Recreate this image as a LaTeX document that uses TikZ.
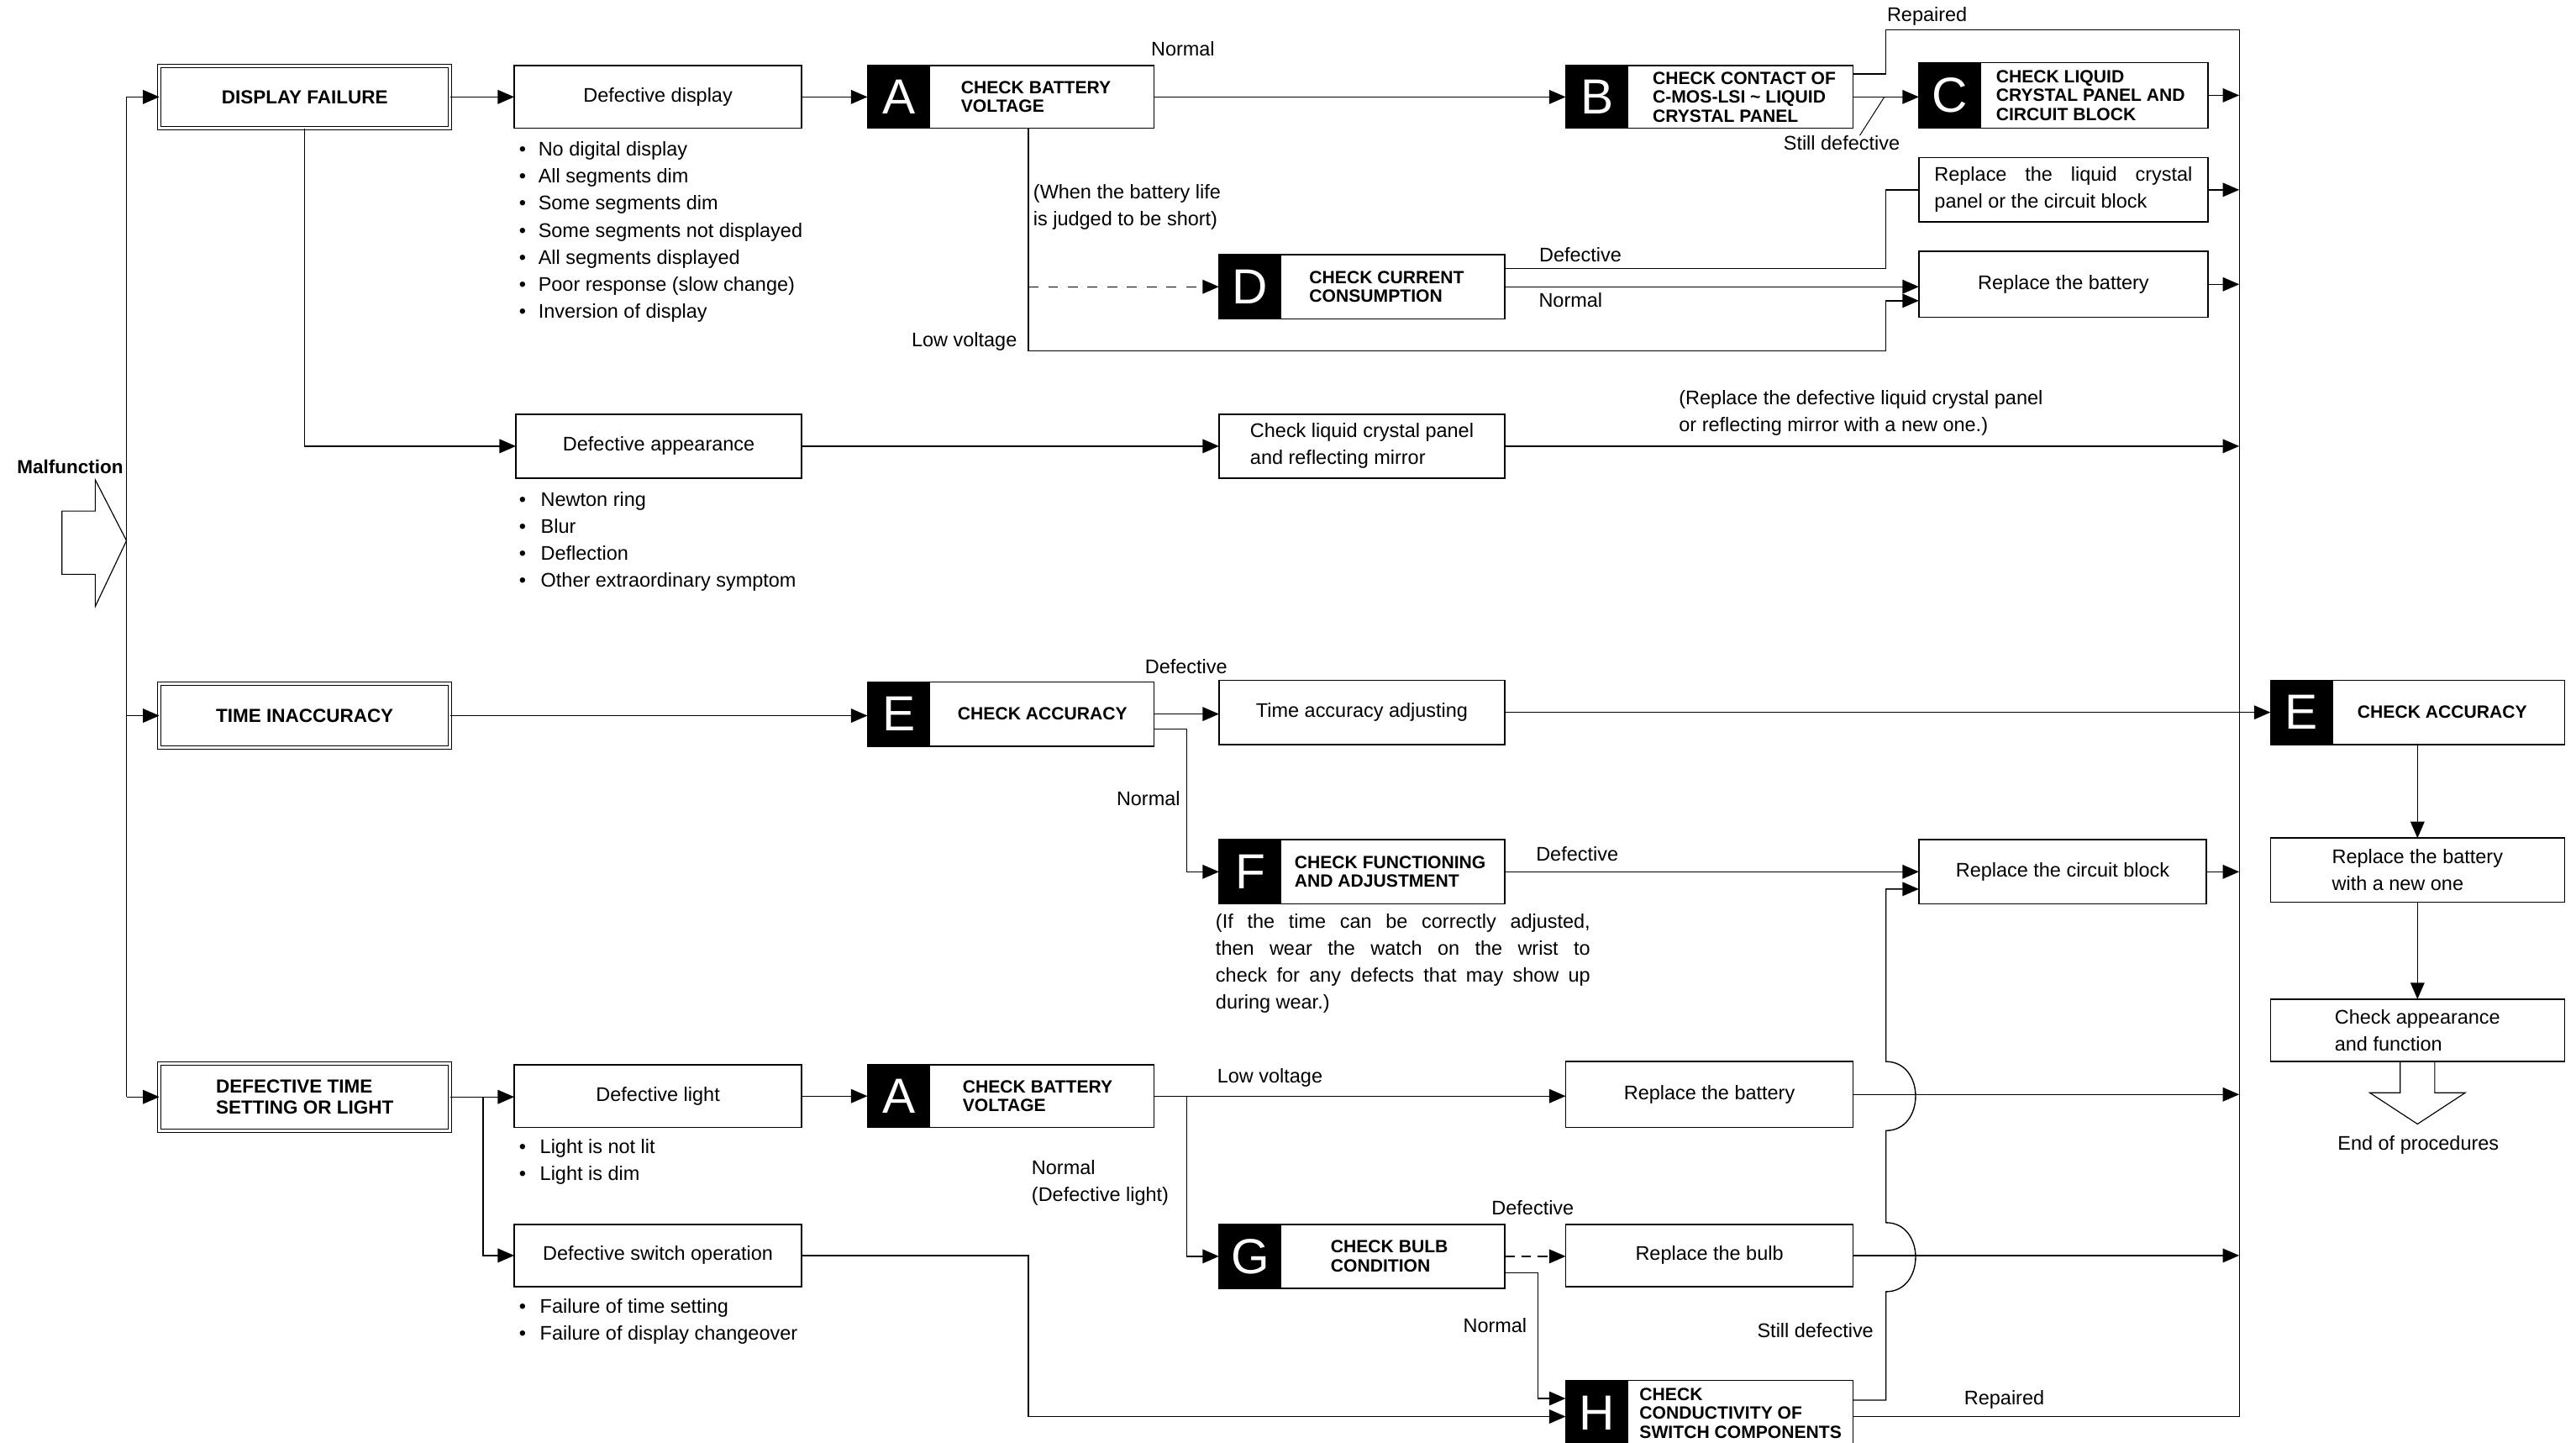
\documentclass[tikz,border=0pt]{standalone}
\usepackage{fontspec}
\setmainfont{Liberation Sans}
\usetikzlibrary{arrows.meta,calc}
\newcommand{\mychk}[8]{%
  \node[cbox, anchor=north west, minimum width=#4, minimum height=#5] (#1) at (#2,#3) {};
  \fill (#1.north west) rectangle ([xshift=38pt]#1.south west);
  \node[letter] (#1-let) at ([xshift=19pt]#1.west) {#6};
  \node[ctext] (#1-txt) at ([xshift=#7pt]#1.west) {#8};
}
\begin{document}
\begin{tikzpicture}[x=1pt,y=-1pt,
  every node/.style={inner sep=0pt, outer sep=0pt},
  lbl/.style={font=\fontsize{12}{16.4}\selectfont, text height=8.6pt, text depth=2.5pt},
  ml/.style={font=\fontsize{12}{16.4}\selectfont, align=left},
  box/.style={draw, line width=0.8pt, fill=white, font=\fontsize{12}{16.4}\selectfont, align=center},
  tbox/.style={draw, double, double distance=1.4pt, line width=0.6pt, fill=white, font=\bfseries\fontsize{11.5}{12.5}\selectfont, align=left},
  cbox/.style={draw, line width=0.8pt, fill=white},
  ctext/.style={font=\bfseries\fontsize{10.8}{11.5}\selectfont, align=left, anchor=west},
  letter/.style={text=white, font=\fontsize{30}{30}\selectfont},
  con/.style={line width=0.7pt},
  arr/.style={con, -{Triangle[length=10pt,width=8.5pt]}},
]
\fill[white] (0,0) rectangle (1568,877.6);
\useasboundingbox (0,0) rectangle (1568,877.6);

% helper x positions
\coordinate (xL) at (77,0);
\coordinate (xR) at (1363,0);
\coordinate (xJ) at (1148,0);
\coordinate (xV) at (626,0);
\coordinate (xN) at (722.5,0);
\coordinate (xS) at (294,0);
\coordinate (xGN) at (936,0);

% ---------- title boxes ----------
\node[tbox, minimum width=177, minimum height=38] (tDF) at (185.5,59) {DISPLAY FAILURE};
\node[tbox, minimum width=177, minimum height=39] (tTI) at (185.5,435.5) {TIME INACCURACY};
\node[tbox, minimum width=177, minimum height=41] (tDT) at (185.5,667.5) {DEFECTIVE TIME\\SETTING OR LIGHT};

% ---------- plain boxes ----------
\node[box, minimum width=175, minimum height=38] (dd) at (400.5,59) {Defective display};
\node[box, minimum width=174, minimum height=39] (da) at (401,271.5) {Defective appearance};
\node[box, minimum width=175, minimum height=38] (dl) at (400.5,667) {Defective light};
\node[box, minimum width=175, minimum height=38] (ds) at (400.5,764) {Defective switch operation};
\node[box, minimum width=174, minimum height=39, align=left] (clc) at (829,271.5) {Check liquid crystal panel\\and reflecting mirror};
\node[box, minimum width=174, minimum height=39] (taa) at (829,433.5) {Time accuracy adjusting};
\node[box, minimum width=176, minimum height=39] (rlc) at (1256,115.5) {};
\node[ml, text width=157, align=justify] (rlct) at (rlc) {Replace the liquid crystal\linebreak panel or the circuit block};
\node[box, minimum width=176, minimum height=40] (rb1) at (1256,173) {Replace the battery};
\node[box, minimum width=175, minimum height=39] (rcb) at (1255.5,530.5) {Replace the circuit block};
\node[box, minimum width=175, minimum height=40] (rb2) at (1040.5,666) {Replace the battery};
\node[box, minimum width=175, minimum height=38] (rbulb) at (1040.5,764) {Replace the bulb};
\node[box, minimum width=179, minimum height=39, align=left] (rbn) at (1471.5,529.5) {Replace the battery\\with a new one};
\node[box, minimum width=179, minimum height=38, align=left] (cap) at (1471.5,627) {Check appearance\\and function};

% ---------- check boxes ----------
\mychk{cA1}{528}{40}{174.5}{38}{A}{57}{CHECK BATTERY\\VOLTAGE}
\mychk{cB}{953}{40}{175}{38}{B}{53}{CHECK CONTACT OF\\C-MOS-LSI \textasciitilde{} LIQUID\\CRYSTAL PANEL}
\mychk{cC}{1168}{38}{176}{40}{C}{47}{CHECK LIQUID\\CRYSTAL PANEL AND\\CIRCUIT BLOCK}
\mychk{cD}{742}{155}{174}{39}{D}{55}{CHECK CURRENT\\CONSUMPTION}
\mychk{cE1}{528}{415}{174.5}{39}{E}{55}{CHECK ACCURACY}
\mychk{cF}{742}{511}{174}{39}{F}{46}{CHECK FUNCTIONING\\AND ADJUSTMENT}
\mychk{cE2}{1382}{414}{179}{39}{E}{53}{CHECK ACCURACY}
\mychk{cA2}{528}{648}{174.5}{38}{A}{58}{CHECK BATTERY\\VOLTAGE}
\mychk{cG}{742}{745}{174}{39}{G}{68}{CHECK BULB\\CONDITION}
\mychk{cH}{953}{840}{175}{40}{H}{45}{CHECK\\CONDUCTIVITY OF\\SWITCH COMPONENTS}

% ---------- bullet lists ----------
\foreach \t [count=\i from 0] in {No digital display, All segments dim, Some segments dim, Some segments not displayed, All segments displayed, Poor response (slow change), Inversion of display}
  \node[lbl, anchor=west] (ddb\i) at (316, 92+16.4*\i) {\textbullet\hspace{7.5pt}\t};
\foreach \t [count=\i from 0] in {Newton ring, Blur, Deflection, Other extraordinary symptom}
  \node[lbl, anchor=west] (dab\i) at (316, 305+16.4*\i) {\textbullet\hspace{9pt}\t};
\foreach \t [count=\i from 0] in {Light is not lit, Light is dim}
  \node[lbl, anchor=west] (dlb\i) at (316, 699+16.4*\i) {\textbullet\hspace{8.5pt}\t};
\foreach \t [count=\i from 0] in {Failure of time setting, Failure of display changeover}
  \node[lbl, anchor=west] (dsb\i) at (316, 796+16.4*\i) {\textbullet\hspace{8.5pt}\t};

% ---------- Malfunction ----------
\node[font=\bfseries\fontsize{11.5}{12}\selectfont, anchor=east] (mal) at (75,284) {Malfunction};
\draw[line width=0.6pt] (37.7,311) -- (58,311) -- (58,292) -- (77,329) -- (58,369) -- (58,349.5) -- (37.7,349.5) -- cycle;

% left trunk
\draw[con] (xL |- tDF.west) -- (xL |- tDT.west);
\draw[arr] (xL |- tDF.west) -- (tDF.west);
\draw[arr] (xL |- tTI.west) -- (tTI.west);
\draw[arr] (xL |- tDT.west) -- (tDT.west);

% ---------- display failure branch ----------
\draw[arr] (tDF.east) -- (dd.west);
\draw[arr] (tDF.south) |- (da.west);
\draw[arr] (dd.east) -- (cA1.west);
\draw[arr] (cA1.east) -- (cA1.east -| cB.west);
\node[lbl] (lnA1) at (720,31) {Normal};

\coordinate (lv1) at (626,213.5);
\coordinate (lv2) at (1148,213.5);
\draw[arr] (xV |- cA1.south) -- (lv1) -- (lv2) |- ([yshift=-10pt]rb1.west);
\node[lbl, anchor=east] (llv) at (619,208) {Low voltage};
\node[ml, anchor=west] (lbat) at (629,126) {(When the battery life\\is judged to be short)};
\draw[arr, dash pattern=on 6pt off 6pt] (xV |- cD.west) -- (cD.west);

\draw[con] ([yshift=11pt]cD.east) -| (xJ |- rlc.west) -- (rlc.west);
\draw[arr] (cD.east) -- (cD.east -| rb1.west);
\node[lbl] (lDd) at (962,156) {Defective};
\node[lbl] (lDn) at (956,184) {Normal};

\draw[arr] (cB.east) -- (cB.east -| cC.west);
\coordinate (RT) at (1363,18);
\coordinate (RB) at (1363,862);
\draw[con] ([yshift=14pt]cB.east) -| (xJ |- RT) -- (RT);
\draw[con] (RT) -- (RB);
\node[lbl] (lrep1) at (1173,10) {Repaired};
\node[lbl] (lsd1) at (1121,88) {Still defective};
\coordinate (sdt) at (1147,59);
\draw[line width=0.5pt] ([xshift=11pt]lsd1.north) -- (sdt);

\draw[arr] (cC.east) -- (xR |- cC.east);
\draw[arr] (rlc.east) -- (xR |- rlc.east);
\draw[arr] (rb1.east) -- (xR |- rb1.east);

\draw[arr] (da.east) -- (clc.west);
\draw[arr] (clc.east) -- (xR |- clc.east);
\node[ml, anchor=west] (lrpl) at (1022,251.5) {(Replace the defective liquid crystal panel\\or reflecting mirror with a new one.)};

% ---------- time inaccuracy branch ----------
\draw[arr] (tTI.east) -- (tTI.east -| cE1.west);
\draw[arr] (cE1.east) -- (cE1.east -| taa.west);
\node[lbl] (lEd) at (722,407) {Defective};
\draw[arr] ([yshift=-9pt]cE1.east) -| (xN |- cF.west) -- (cF.west);
\node[lbl] (lEn) at (699,487) {Normal};
\draw[arr] (taa.east) -- (cE2.west);
\draw[arr] (cF.east) -- (cF.east -| rcb.west);
\node[lbl] (lFd) at (960,521) {Defective};
\draw[arr] (rcb.east) -- (xR |- rcb.east);
\node[ml, anchor=west, text width=228, align=justify] (fnote) at (740,586.5) {(If the time can be correctly adjusted,\linebreak then wear the watch on the wrist to\linebreak check for any defects that may show up\linebreak during wear.)};

% right column
\draw[arr] (cE2.south) -- (rbn.north);
\draw[arr] (rbn.south) -- (cap.north);
\draw[line width=0.6pt] ([xshift=-10.5pt]cap.south) -- ++(0,19) -- ++(-18.5,0) -- ++(29,19) -- ++(29,-19) -- ++(-18.5,0) -- ([xshift=10.5pt]cap.south);
\node[lbl] (lend) at (1472,697) {End of procedures};

% ---------- defective time setting / light ----------
\draw[arr] (tDT.east) -- (tDT.east -| dl.west);
\draw[arr] (xS |- tDT.east) |- (ds.west);
\draw[arr] (dl.east) -- (cA2.west);
\draw[arr] (cA2.east) -- (cA2.east -| rb2.west);
\node[lbl] (lA2lv) at (773,656) {Low voltage};
\draw[arr] (xN |- cA2.east) |- (cG.west);
\node[ml, anchor=west] (lA2n) at (628,720) {Normal\\(Defective light)};
\draw[arr] (rb2.east) -- (xR |- rb2.east);
\draw[arr, dash pattern=on 6pt off 4pt] (cG.east) -- (cG.east -| rbulb.west);
\node[lbl] (lGd) at (933,736) {Defective};
\coordinate (Hin1) at ([yshift=9pt]cH.west);
\coordinate (Hin2) at ([yshift=-2pt]cH.west);
\draw[arr] ([yshift=-10pt]cG.east) -| (xGN |- Hin1) -- (Hin1);
\node[lbl] (lGn) at (910,808) {Normal};
\draw[arr] (ds.east) -| (xV |- Hin2) -- (Hin2);
\draw[arr] (rbulb.east) -- (xR |- rbulb.east);

\coordinate (Hout1) at ([yshift=8pt]cH.east);
\coordinate (Hout2) at ([yshift=-2pt]cH.east);
\coordinate (rcbin) at ([yshift=-10.5pt]rcb.west);
\draw[arr] (Hout1) -- (xJ |- Hout1) -- (1148,786) .. controls (1172,786) and (1172,744) .. (1148,744)
  -- (1148,688) .. controls (1172,688) and (1172,646) .. (1148,646) -- (xJ |- rcbin) -- (rcbin);
\node[lbl] (lsd2) at (1105,811) {Still defective};
\draw[con] (Hout2) -- (RB);
\node[lbl] (lrep2) at (1220,852) {Repaired};
\end{tikzpicture}
\end{document}
